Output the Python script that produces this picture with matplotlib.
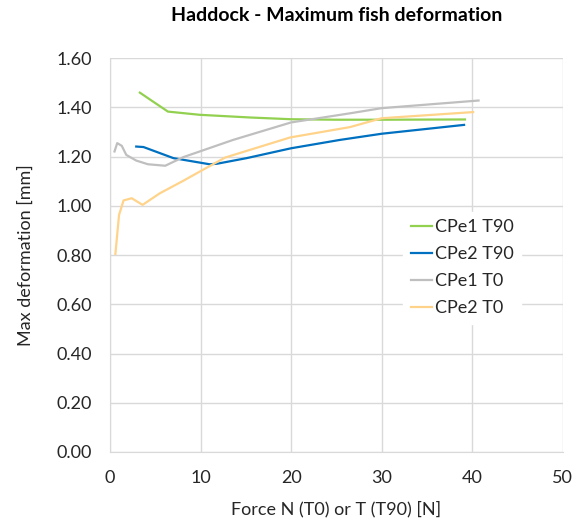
import matplotlib
matplotlib.use("Agg")
import matplotlib.pyplot as plt

plt.rcParams['font.family'] = ['Lato', 'DejaVu Sans']

# CPe1 T90
cpe1_t90_x = [3.3, 4.5, 6.4, 9.9, 15.5, 20.0, 25.0, 30.0, 39.2]
cpe1_t90_y = [1.46, 1.43, 1.383, 1.37, 1.359, 1.352, 1.350, 1.350, 1.351]
# CPe2 T90
cpe2_t90_x = [2.9, 3.7, 7.0, 11.0, 11.8, 15.1, 20.0, 25.4, 30.0, 39.1]
cpe2_t90_y = [1.241, 1.239, 1.194, 1.169, 1.171, 1.194, 1.234, 1.268, 1.293, 1.329]
# CPe1 T0
cpe1_t0_x = [0.5, 0.8, 1.3, 1.8, 2.9, 4.2, 6.1, 8.1, 13.6, 20.0, 26.5, 30.0, 40.7]
cpe1_t0_y = [1.221, 1.255, 1.244, 1.207, 1.184, 1.169, 1.163, 1.198, 1.268, 1.339, 1.376, 1.397, 1.428]
# CPe2 T0
cpe2_t0_x = [0.6, 1.0, 1.5, 2.4, 3.6, 5.5, 8.1, 9.9, 12.7, 15.5, 19.9, 26.5, 30.0, 40.1]
cpe2_t0_y = [0.805, 0.963, 1.022, 1.031, 1.004, 1.051, 1.102, 1.139, 1.196, 1.228, 1.278, 1.320, 1.356, 1.381]

txt = '#262626'

fig = plt.figure(figsize=(5.85, 5.29), dpi=100)
ax = fig.add_axes([0.188, 0.1456, 0.774, 0.7444])

ax.plot(cpe1_t90_x, cpe1_t90_y, color='#92D050', lw=1.6, label='CPe1 T90')
ax.plot(cpe2_t90_x, cpe2_t90_y, color='#0070C0', lw=1.6, label='CPe2 T90')
ax.plot(cpe1_t0_x, cpe1_t0_y, color='#BFBFBF', lw=1.6, label='CPe1 T0')
ax.plot(cpe2_t0_x, cpe2_t0_y, color='#FFD38A', lw=1.6, label='CPe2 T0')

ax.set_xlim(0, 50)
ax.set_ylim(0, 1.6)
ax.set_xticks(range(0, 51, 10))
ax.set_yticks([i * 0.2 for i in range(9)])
ax.set_yticklabels([f"{i * 0.2:.2f}" for i in range(9)])
ax.grid(True, color='#D9D9D9', lw=1)
ax.set_axisbelow(True)
for s in ['top', 'right']:
    ax.spines[s].set_visible(False)
for s in ['left', 'bottom']:
    ax.spines[s].set_color('#D9D9D9')
ax.tick_params(length=0, labelsize=13, colors=txt, pad=13)

ax.set_xlabel('Force N (T0) or T (T90) [N]', fontsize=13, color=txt, labelpad=11)
ax.set_ylabel('Max deformation [mm]', fontsize=13, color=txt, labelpad=16)
ax.set_title('Haddock - Maximum fish deformation', fontsize=14, fontweight='bold',
             color='black', pad=27)

leg = ax.legend(loc='center left', bbox_to_anchor=(0.628, 0.468), frameon=True,
                fontsize=13, handlelength=1.2, handletextpad=0.15, labelspacing=0.62,
                borderpad=0.4, labelcolor=txt)
leg.get_frame().set_edgecolor('white')
leg.get_frame().set_facecolor('white')
leg.get_frame().set_alpha(1)
leg.get_frame().set_boxstyle('square', pad=0)

fig.savefig('out.png', dpi=100)
